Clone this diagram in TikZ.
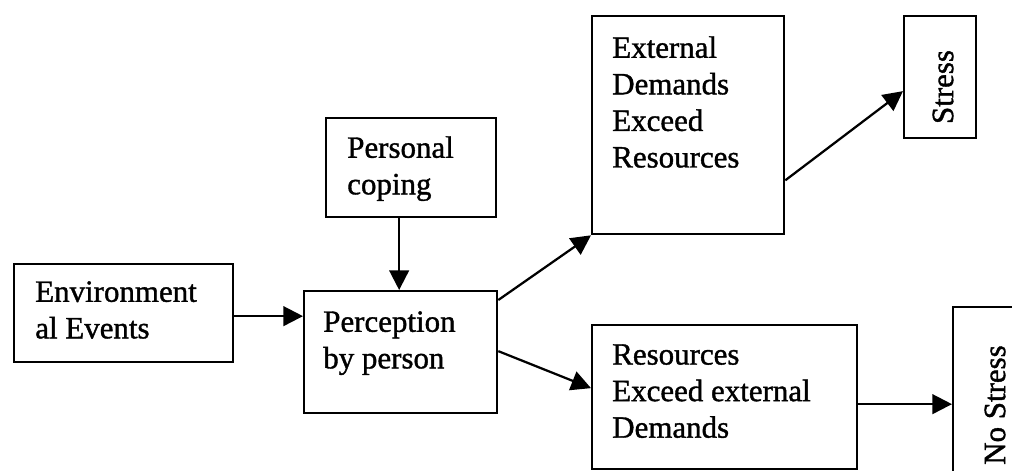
\documentclass[tikz,border=0pt]{standalone}
\usepackage{fontspec}
\setmainfont{Liberation Serif}[FakeBold=1.2]
\usetikzlibrary{arrows.meta, positioning, calc}

\begin{document}
\begin{tikzpicture}[x=0.025cm, y=-0.025cm,
  stage/.style={draw, line width=1.6pt, inner sep=0pt, anchor=north west},
  caption/.style={align=left, inner sep=0pt, anchor=north west, font=\fontsize{22}{26}\selectfont},
  flow/.style={line width=1.6pt, -{Triangle[length=14pt,width=14pt]}}]

  % Frame of the picture
  \useasboundingbox (0,0) rectangle (1012,470);
  \clip (0,0) rectangle (1012,470);

  % Boxes
  \node[stage, minimum width=5.475cm, minimum height=2.45cm] (env) at (13,263) {};
  \node[stage, minimum width=4.25cm, minimum height=2.475cm] (coping) at (325,117) {};
  \node[stage, minimum width=4.825cm, minimum height=3.05cm] (percep) at (303,290) {};
  \node[stage, minimum width=4.8cm, minimum height=5.45cm] (extern) at (591,15) {};
  \node[stage, minimum width=1.8cm, minimum height=3.05cm] (stress) at (903,15) {};
  \node[stage, minimum width=6.625cm, minimum height=3.6cm] (resrc) at (591,324) {};
  \node[stage, minimum width=2.25cm, minimum height=5cm] (nostress) at (952,306) {};

  % Texts in the boxes
  \node[caption] (envtxt) at (35,281) {Environment\\al Events};
  \node[caption] (copingtxt) at (347,136) {Personal\\coping};
  \node[caption] (perceptxt) at (323,311) {Perception\\by person};
  \node[caption] (externtxt) at (612,36) {External\\Demands\\Exceed\\Resources};
  \node[caption] (resrctxt) at (612,344) {Resources\\Exceed external\\Demands};
  \node[caption, anchor=center, rotate=90] (stresstxt) at (943,87) {Stress};
  \node[caption, anchor=center, rotate=90] (nostresstxt) at (995,405) {No Stress};

  % Arrows
  \draw[flow] ($(env.east)+(0,3)$) -- ($(env.east -| percep.west)+(0,3)$);
  \draw[flow] ($(coping.south)+(-12,0)$) -- ($(coping.south |- percep.north)+(-12,0)$);
  \draw[flow] ($(percep.north east)+(0,10)$) -- (extern.south west);
  \draw[flow] ($(extern.south east)+(0,-55)$) -- ($(stress.west)+(0,14)$);
  \draw[flow] ($(percep.east)+(0,-1)$) -- ($(resrc.west)+(0,-9)$);
  \draw[flow] ($(resrc.east)+(0,7)$) -- ($(resrc.east -| nostress.west)+(0,7)$);
\end{tikzpicture}
\end{document}
